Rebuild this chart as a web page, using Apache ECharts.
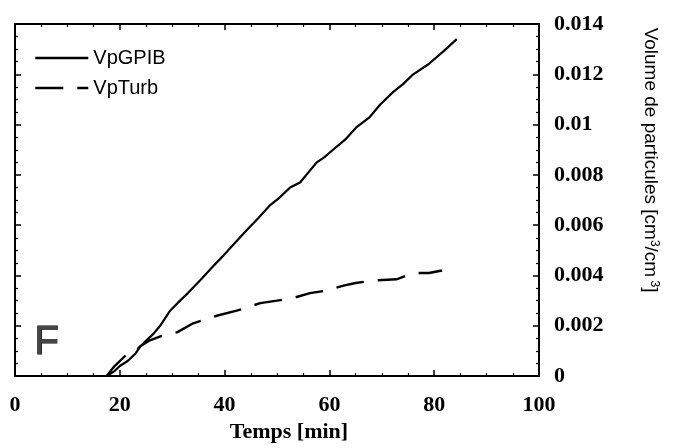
<!DOCTYPE html>
<html>
<head>
<meta charset="utf-8">
<script src="https://cdn.jsdelivr.net/npm/echarts@6/dist/echarts.min.js"></script>
<style>html,body{margin:0;padding:0;background:#fff}#c{width:677px;height:448px}</style>
</head>
<body>
<div id="c"></div>
<script>
var xTicks = [0, 20, 40, 60, 80, 100];
var yTicks = [0, 0.002, 0.004, 0.006, 0.008, 0.01, 0.012, 0.014];

var gpibX = [17.5, 19, 20, 21.5, 23, 24, 25, 26.5, 27.7, 29.6, 31, 33, 35.3, 37.5, 39.8, 42, 44.2, 46.5, 48.7, 50.5, 52.5, 54.4, 56, 57.6, 59, 60.7, 63, 65.2, 67.7, 69.7, 72.2, 74, 76, 78.9, 81.7, 84.3];
var gpibY = [0, 0.0002, 0.0004, 0.0006, 0.0009, 0.0012, 0.0014, 0.0017, 0.002, 0.0026, 0.0029, 0.0033, 0.0038, 0.0043, 0.0048, 0.0053, 0.0058, 0.0063, 0.0068, 0.0071, 0.0075, 0.0077, 0.0081, 0.0085, 0.0087, 0.0090, 0.0094, 0.0099, 0.0103, 0.0108, 0.0113, 0.0116, 0.0120, 0.0124, 0.0129, 0.0134];

var turbX = [17.5, 19, 20, 21.5, 23, 24, 25.5, 28, 31, 34, 38.5, 42.3, 46.8, 50, 53, 56.3, 59.5, 62.7, 65, 68.4, 72.8, 76, 79, 81.5];
var turbY = [0, 0.0004, 0.0006, 0.0009, 0.0010, 0.0012, 0.0014, 0.0016, 0.00175, 0.0021, 0.0024, 0.0026, 0.0029, 0.0030, 0.0031, 0.0033, 0.0034, 0.0036, 0.0037, 0.0038, 0.00385, 0.0041, 0.0041, 0.0042];

function pairs(xs, ys) { return xs.map(function (x, i) { return [x, ys[i]]; }); }

var serifFont = '"Liberation Serif", "Times New Roman", serif';
var sansFont = '"Liberation Sans", Arial, sans-serif';
var axLine = { show: true, onZero: false, lineStyle: { color: '#000', width: 2 } };
var tick = { show: true, inside: true, length: 6, lineStyle: { color: '#000', width: 1.5 } };
var minor = { show: true, splitNumber: 4, length: 3, lineStyle: { color: '#000', width: 1.2 } };

var chart = echarts.init(document.getElementById('c'));
chart.setOption({
  animation: false,
  backgroundColor: '#fff',
  grid: { left: 15, right: 138, top: 24, bottom: 65 },
  legend: {
    orient: 'vertical', left: 29, top: 43, itemWidth: 53, itemHeight: 14, itemGap: 10,
    itemStyle: { opacity: 0 },
    lineStyle: { width: 2.6 },
    textStyle: { fontFamily: sansFont, fontSize: 20, color: '#000' },
    data: ['VpGPIB', 'VpTurb']
  },
  xAxis: [{
    type: 'value', position: 'bottom', min: 0, max: 100, interval: 20,
    axisLine: axLine, axisTick: tick, minorTick: minor, splitLine: { show: false },
    axisLabel: { margin: 18, color: '#000', fontFamily: serifFont, fontWeight: 'bold', fontSize: 22,
      formatter: function (v) { return xTicks.indexOf(v) >= 0 ? String(v) : ''; } },
    name: 'Temps [min]', nameLocation: 'middle', nameGap: 44,
    nameTextStyle: { color: '#000', fontFamily: serifFont, fontWeight: 'bold', fontSize: 22, padding: [0, 0, 0, 24] }
  }, {
    type: 'value', position: 'top', min: 0, max: 100, interval: 20,
    axisLine: axLine, axisTick: tick, minorTick: minor, splitLine: { show: false }, axisLabel: { show: false }
  }],
  yAxis: [{
    type: 'value', position: 'right', min: 0, max: 0.014, interval: 0.002,
    axisLine: axLine, axisTick: tick, minorTick: minor, splitLine: { show: false },
    axisLabel: { margin: 15, color: '#000', fontFamily: serifFont, fontWeight: 'bold', fontSize: 22,
      formatter: function (v) { var r = Math.round(v * 1000) / 1000; return String(r); } },
    name: 'Volume de particules [cm{sup|3}/cm{sup| 3}]', nameLocation: 'middle', nameGap: 101, nameRotate: -90,
    nameTextStyle: { color: '#000', fontFamily: sansFont, fontSize: 19, padding: [0, 80, 0, 0],
      rich: { sup: { fontFamily: sansFont, fontSize: 12, verticalAlign: 'top', padding: [0, 0, 8, 0] } } }
  }, {
    type: 'value', position: 'left', min: 0, max: 0.014, interval: 0.002,
    axisLine: axLine, axisTick: tick, minorTick: minor, splitLine: { show: false }, axisLabel: { show: false }
  }],
  graphic: [{
    type: 'text', left: 34, top: 322,
    style: { text: 'F', fontFamily: sansFont, fontSize: 40, fill: '#444', stroke: '#000', lineWidth: 1 }
  }],
  series: [{
    name: 'VpGPIB', type: 'line', xAxisIndex: 0, yAxisIndex: 0, showSymbol: false, symbol: 'none',
    lineStyle: { color: '#000', width: 2.2, type: 'solid' },
    itemStyle: { color: '#000' },
    data: pairs(gpibX, gpibY)
  }, {
    name: 'VpTurb', type: 'line', xAxisIndex: 0, yAxisIndex: 0, showSymbol: false, symbol: 'none',
    lineStyle: { color: '#000', width: 2.4, type: [28, 14] },
    itemStyle: { color: '#000' },
    data: pairs(turbX, turbY)
  }]
});
</script>
</body>
</html>
